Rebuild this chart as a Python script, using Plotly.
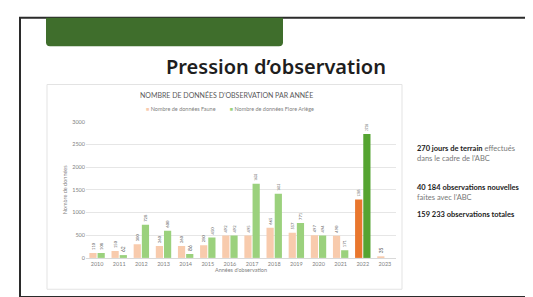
import plotly.graph_objects as go

W, H = 533, 297

years = ["2010", "2011", "2012", "2013", "2014", "2015", "2016",
         "2017", "2018", "2019", "2020", "2021", "2022", "2023"]
faune = [110, 150, 300, 260, 260, 280, 492, 495, 665, 557, 497, 490, 1285, 35]
flore = [108, 62, 728, 600, 86, 450, 492, 1633, 1413, 771, 494, 171, 2728, None]
faune_colors = ["#f8cbad"] * 12 + ["#e9772e", "#f8cbad"]
flore_colors = ["#9bd17d"] * 12 + ["#55a431", "#9bd17d"]
y_ticks = [0, 500, 1000, 1500, 2000, 2500, 3000]
name_faune = "Nombre de données Faune"
name_flore = "Nombre de données Flore Ariège"


def fx(x):
    return x / W


def fy(y):
    return 1 - y / H


def lbl(v):
    return "" if v is None else str(v)


fig = go.Figure()
fig.add_trace(go.Bar(
    x=years, y=faune, name=name_faune, showlegend=False,
    marker=dict(color=faune_colors, line=dict(width=0)),
    text=[lbl(v) for v in faune], textposition="outside", textangle=-90,
    textfont=dict(size=5, color="#595959"), cliponaxis=False,
))
fig.add_trace(go.Bar(
    x=years, y=flore, name=name_flore, showlegend=False,
    marker=dict(color=flore_colors, line=dict(width=0)),
    text=[lbl(v) for v in flore], textposition="outside", textangle=-90,
    textfont=dict(size=5, color="#595959"), cliponaxis=False,
))

shapes = [
    # slide frame
    dict(type="rect", xref="paper", yref="paper", x0=fx(12), x1=fx(545),
         y0=fy(292), y1=fy(7), line=dict(color="#2b2b2b", width=2), layer="below"),
    # green header tab
    dict(type="path", xref="paper", yref="paper",
         path=f"M {fx(38)} {fy(7)} L {fx(275)} {fy(7)} L {fx(275)} {fy(32)} "
              f"Q {fx(275)} {fy(36)} {fx(271)} {fy(36)} L {fx(42)} {fy(36)} "
              f"Q {fx(38)} {fy(36)} {fx(38)} {fy(32)} Z",
         fillcolor="#3f6e2c", line=dict(width=0), layer="below"),
    # chart box
    dict(type="rect", xref="paper", yref="paper", x0=fx(39), x1=fx(394),
         y0=fy(284), y1=fy(75), line=dict(color="#e3e3e3", width=1), layer="below"),
]

legend_text = (f"<span style='color:#f8cbad'>■</span> {name_faune}"
               f"          <span style='color:#9bd17d'>■</span> {name_flore}")

annotations = [
    dict(text="Pression d’observation", x=fx(268), y=fy(57), xref="paper", yref="paper",
         showarrow=False, font=dict(family="Noto Sans", size=20, color="#1e1e1e",
                                    weight=600),
         xanchor="center", yanchor="middle"),
    dict(text="NOMBRE DE DONNÉES D’OBSERVATION PAR ANNÉE", x=fx(218), y=fy(86),
         xref="paper", yref="paper", showarrow=False,
         font=dict(family="Lato", size=7, color="#595959"),
         xanchor="center", yanchor="middle"),
    dict(text=legend_text, x=fx(222), y=fy(100), xref="paper", yref="paper",
         showarrow=False, font=dict(family="Lato", size=5.5, color="#7f7f7f"),
         xanchor="center", yanchor="middle"),
    dict(text="<b>270 jours de terrain</b> <span style='color:#777'>effectués</span><br>"
              "<span style='color:#777'>dans le cadre de l’ABC</span>",
         x=fx(407), y=fy(145), xref="paper", yref="paper", showarrow=False,
         align="left", xanchor="left", yanchor="middle",
         font=dict(family="Lato", size=7.5, color="#222222")),
    dict(text="<b>40 184 observations nouvelles</b><br>"
              "<span style='color:#777'>faites avec l’ABC</span>",
         x=fx(407), y=fy(185), xref="paper", yref="paper", showarrow=False,
         align="left", xanchor="left", yanchor="middle",
         font=dict(family="Lato", size=7.5, color="#222222")),
    dict(text="<b>159 233 observations totales</b>",
         x=fx(407), y=fy(208), xref="paper", yref="paper", showarrow=False,
         align="left", xanchor="left", yanchor="middle",
         font=dict(family="Lato", size=7.5, color="#222222")),
]

fig.update_layout(
    width=W, height=H, margin=dict(l=0, r=0, t=0, b=0),
    paper_bgcolor="white", plot_bgcolor="white",
    font=dict(family="Lato", color="#7f7f7f", size=5.5),
    barmode="group", bargap=0.26, bargroupgap=0.12,
    showlegend=False,
    xaxis=dict(domain=[fx(78), fx(388)], type="category", showgrid=False,
               showline=True, linecolor="#d9d9d9", ticks="",
               tickfont=dict(size=5.5, color="#7f7f7f"),
               title=dict(text="Années d'observation", font=dict(size=5.5, color="#7f7f7f"),
                          standoff=2)),
    yaxis=dict(domain=[fy(252), fy(113)], range=[0, 3000], tickvals=y_ticks,
               tickformat="d", showgrid=True, gridcolor="#e6e6e6", zeroline=False,
               showline=False, tickfont=dict(size=5.5, color="#7f7f7f"),
               title=dict(text="Nombre de données", font=dict(size=5.5, color="#7f7f7f"),
                          standoff=4)),
    shapes=shapes, annotations=annotations,
)

fig.write_html("out.html")
